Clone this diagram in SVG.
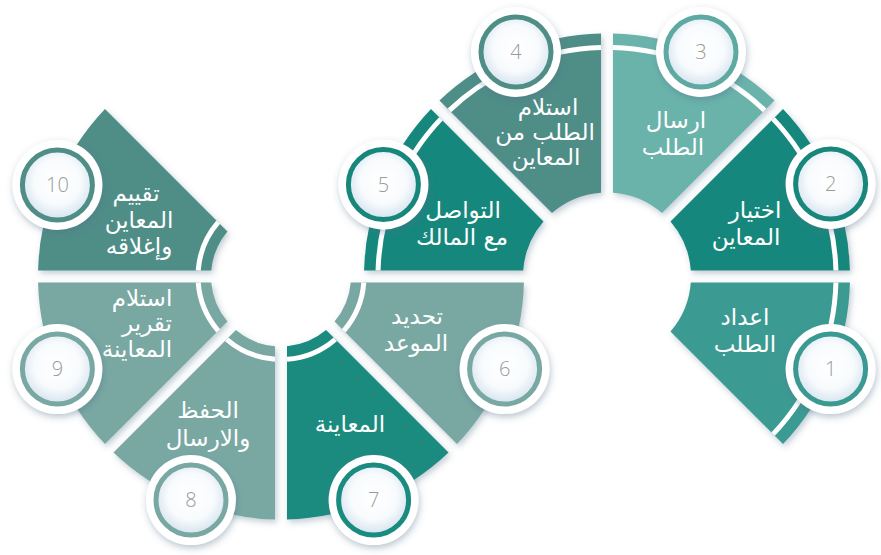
<svg xmlns="http://www.w3.org/2000/svg" width="881" height="555" viewBox="0 0 881 555">
<defs>
<filter id="sh" x="-20%" y="-20%" width="140%" height="140%">
<feDropShadow dx="2" dy="3" stdDeviation="3" flood-color="#4d6f88" flood-opacity="0.35"/>
</filter>
<filter id="csh" x="-30%" y="-30%" width="160%" height="160%">
<feDropShadow dx="1" dy="3" stdDeviation="3.5" flood-color="#4d6f88" flood-opacity="0.4"/>
</filter>
<radialGradient id="inner" cx="50%" cy="45%" r="55%">
<stop offset="0" stop-color="#ffffff"/>
<stop offset="0.6" stop-color="#f8fbfd"/>
<stop offset="1" stop-color="#d3e2ee"/>
</radialGradient>
<style>
.lbl{font-family:'DejaVu Sans',sans-serif;font-size:23px;fill:#ffffff;text-anchor:middle}
.num{font-family:'Open Sans','DejaVu Sans',sans-serif;font-size:20px;font-weight:300;fill:#9a9a9a;text-anchor:middle}
.stripe{fill:none;stroke:#ffffff;stroke-width:5}
.disc{fill:#ffffff;filter:url(#csh)}
.ring{fill:url(#inner);stroke-width:5}
.sec{filter:url(#sh)}
</style>
</defs>
<rect width="881" height="555" fill="#ffffff"/>

<g id="step1">
<path class="sec" fill="#3a9a92" d="M849.93,282.5 A243,243 0 0 1 783.02,444.03 L670.49,331.5 A84,84 0 0 0 690.79,282.5 Z"/>
<path class="stripe" d="M835.92,282.5 A229,229 0 0 1 773.11,434.13"/>
<text class="lbl" x="745" y="325">اعداد</text>
<text class="lbl" x="745" y="352">الطلب</text>
<circle class="disc" cx="830.6" cy="369.1" r="45"/>
<circle class="ring" stroke="#3a9a92" cx="830.6" cy="369.1" r="35"/>
<text class="num" x="830.6" y="376">1</text>
</g>

<g id="step2">
<path class="sec" fill="#17877b" d="M783.02,108.97 A243,243 0 0 1 849.93,270.5 L690.79,270.5 A84,84 0 0 0 670.49,221.5 Z"/>
<path class="stripe" d="M773.11,118.87 A229,229 0 0 1 835.92,270.5"/>
<text class="lbl" x="755" y="218">اختيار</text>
<text class="lbl" x="746" y="245">المعاين</text>
<circle class="disc" cx="830.6" cy="183.9" r="45"/>
<circle class="ring" stroke="#17877b" cx="830.6" cy="183.9" r="35"/>
<text class="num" x="830.6" y="191">2</text>
</g>

<g id="step3">
<path class="sec" fill="#6bb3ab" d="M613,33.57 A243,243 0 0 1 774.53,100.48 L662,213.01 A84,84 0 0 0 613,192.72 Z"/>
<path class="stripe" d="M613,47.58 A229,229 0 0 1 764.63,110.39"/>
<text class="lbl" x="676" y="128">ارسال</text>
<text class="lbl" x="673" y="155">الطلب</text>
<circle class="disc" cx="701" cy="52" r="45"/>
<circle class="ring" stroke="#5ea9a1" cx="701" cy="52" r="35"/>
<text class="num" x="701" y="59">3</text>
</g>

<g id="step4">
<path class="sec" fill="#4f8d87" d="M439.47,100.48 A243,243 0 0 1 601,33.57 L601,192.72 A84,84 0 0 0 552,213.01 Z"/>
<path class="stripe" d="M449.37,110.39 A229,229 0 0 1 601,47.58"/>
<text class="lbl" x="548" y="115">استلام</text>
<text class="lbl" x="545" y="140">الطلب من</text>
<text class="lbl" x="546" y="165">المعاين</text>
<circle class="disc" cx="516" cy="52" r="45"/>
<circle class="ring" stroke="#4f8d87" cx="516" cy="52" r="35"/>
<text class="num" x="516" y="59">4</text>
</g>

<g id="step5">
<path class="sec" fill="#17877b" d="M364.07,270.5 A243,243 0 0 1 430.98,108.97 L543.51,221.5 A84,84 0 0 0 523.21,270.5 Z"/>
<path class="stripe" d="M378.08,270.5 A229,229 0 0 1 440.89,118.87"/>
<text class="lbl" x="463" y="218">التواصل</text>
<text class="lbl" x="462" y="245">مع المالك</text>
<circle class="disc" cx="383.4" cy="184.5" r="45"/>
<circle class="ring" stroke="#17877b" cx="383.4" cy="184.5" r="35"/>
<text class="num" x="383.4" y="191.5">5</text>
</g>

<g id="step6">
<path class="sec" fill="#79a8a3" d="M523.93,282.5 A243,243 0 0 1 457.02,444.03 L334.56,321.57 A70,70 0 0 0 350.74,282.5 Z"/>
<path class="stripe" d="M363.78,282.5 A83,83 0 0 1 343.78,330.79"/>
<text class="lbl" x="417" y="324">تحديد</text>
<text class="lbl" x="416" y="351">الموعد</text>
<circle class="disc" cx="504.6" cy="369.1" r="45"/>
<circle class="ring" stroke="#79a8a3" cx="504.6" cy="369.1" r="35"/>
<text class="num" x="504.6" y="376">6</text>
</g>

<g id="step7">
<path class="sec" fill="#1a8b7f" d="M448.53,452.52 A243,243 0 0 1 287,519.43 L287,346.24 A70,70 0 0 0 326.07,330.06 Z"/>
<path class="stripe" d="M335.29,339.28 A83,83 0 0 1 287,359.28"/>
<text class="lbl" x="350" y="432">المعاينة</text>
<circle class="disc" cx="373.6" cy="500.1" r="45"/>
<circle class="ring" stroke="#1a8b7f" cx="373.6" cy="500.1" r="35"/>
<text class="num" x="373.6" y="507">7</text>
</g>

<g id="step8">
<path class="sec" fill="#79a8a3" d="M275,519.43 A243,243 0 0 1 113.47,452.52 L235.93,330.06 A70,70 0 0 0 275,346.24 Z"/>
<path class="stripe" d="M275,359.28 A83,83 0 0 1 226.71,339.28"/>
<text class="lbl" x="208" y="418">الحفظ</text>
<text class="lbl" x="208" y="446">والارسال</text>
<circle class="disc" cx="191" cy="500.1" r="45"/>
<circle class="ring" stroke="#79a8a3" cx="191" cy="500.1" r="35"/>
<text class="num" x="191" y="507">8</text>
</g>

<g id="step9">
<path class="sec" fill="#79a8a3" d="M104.98,444.03 A243,243 0 0 1 38.07,282.5 L211.26,282.5 A70,70 0 0 0 227.44,321.57 Z"/>
<path class="stripe" d="M218.22,330.79 A83,83 0 0 1 198.22,282.5"/>
<text class="lbl" x="142" y="306">استلام</text>
<text class="lbl" x="147" y="331">تقرير</text>
<text class="lbl" x="137" y="357">المعاينة</text>
<circle class="disc" cx="57.4" cy="369.1" r="45"/>
<circle class="ring" stroke="#79a8a3" cx="57.4" cy="369.1" r="35"/>
<text class="num" x="57.4" y="376">9</text>
</g>

<g id="step10">
<path class="sec" fill="#4f8d87" d="M38.07,270.5 A243,243 0 0 1 104.98,108.97 L227.44,231.43 A70,70 0 0 0 211.26,270.5 Z"/>
<path class="stripe" d="M198.22,270.5 A83,83 0 0 1 218.22,222.21"/>
<text class="lbl" x="136" y="201">تقييم</text>
<text class="lbl" x="139" y="228">المعاين</text>
<text class="lbl" x="139" y="254">وإغلاقه</text>
<circle class="disc" cx="57.4" cy="185" r="45"/>
<circle class="ring" stroke="#4f8d87" cx="57.4" cy="185" r="35"/>
<text class="num" x="57.4" y="192">10</text>
</g>
</svg>
